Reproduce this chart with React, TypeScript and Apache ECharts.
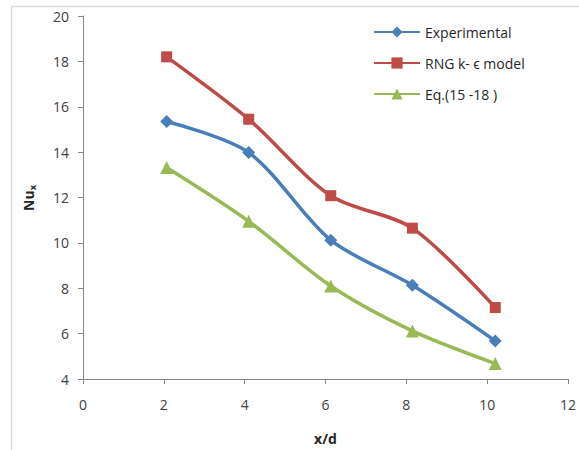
import React, { useEffect, useRef } from "react";
import * as echarts from "echarts";

const xValues = [2.07, 4.1, 6.13, 8.15, 10.2];
const experimental = [15.35, 13.98, 10.12, 8.13, 5.68];
const rngModel = [18.2, 15.45, 12.08, 10.65, 7.15];
const equation = [13.32, 10.95, 8.1, 6.12, 4.68];
const seriesNames = ["Experimental", "RNG k- \u03f5 model", "Eq.(15 -18 )"];
const xTicks = [0, 2, 4, 6, 8, 10, 12];
const yTicks = [4, 6, 8, 10, 12, 14, 16, 18, 20];

const FONT = "'Open Sans', 'Liberation Sans', sans-serif";

export default function App() {
  const ref = useRef<HTMLDivElement>(null);
  useEffect(() => {
    const chart = echarts.init(ref.current!, null, { renderer: "svg" });
    const pair = (ys: number[]) => xValues.map((x, i) => [x, ys[i]]);
    const mk = (name: string, ys: number[], color: string, symbol: string, size: number) => ({
      name,
      type: "line",
      data: pair(ys),
      smooth: 0.3,
      symbol,
      symbolSize: size,
      lineStyle: { color, width: 3.5 },
      itemStyle: { color },
      z: 3,
    });
    chart.setOption({
      animation: false,
      backgroundColor: "#ffffff",
      grid: { left: 83, right: 11, top: 16, bottom: 71 },
      legend: {
        orient: "vertical",
        left: 368,
        top: 20,
        itemGap: 17,
        itemWidth: 46,
        itemHeight: 14,
        textStyle: { fontFamily: FONT, fontSize: 14, color: "#262626" },
        data: seriesNames,
      },
      xAxis: {
        type: "value",
        min: 0,
        max: 12,
        interval: 2,
        name: "x/d",
        nameLocation: "middle",
        nameGap: 52,
        nameTextStyle: { fontFamily: FONT, fontSize: 14, fontWeight: "bold", color: "#262626" },
        axisLine: { show: true, lineStyle: { color: "#868686", width: 1 } },
        axisTick: { show: true, length: 5, lineStyle: { color: "#868686" } },
        splitLine: { show: false },
        axisLabel: {
          fontFamily: FONT,
          fontSize: 14,
          color: "#404040",
          margin: 18,
          formatter: (v: number) => (xTicks.includes(v) ? String(v) : ""),
        },
      },
      yAxis: {
        type: "value",
        min: 4,
        max: 20,
        interval: 2,
        axisLine: { show: true, lineStyle: { color: "#868686", width: 1 } },
        axisTick: { show: true, length: 5, lineStyle: { color: "#868686" } },
        splitLine: { show: false },
        axisLabel: {
          fontFamily: FONT,
          fontSize: 14,
          color: "#404040",
          margin: 14,
          formatter: (v: number) => (yTicks.includes(v) ? String(v) : ""),
        },
      },
      graphic: [
        {
          type: "rect",
          left: 9,
          top: 4,
          shape: { x: 0, y: 0, width: 600, height: 500 },
          style: { fill: "none", stroke: "#D9D9D9", lineWidth: 1.5 },
          silent: true,
          z: -10,
        },
        {
          type: "text",
          x: 28,
          y: 198,
          rotation: Math.PI / 2,
          style: {
            text: "{a|Nu}{b|x}",
            align: "center",
            verticalAlign: "middle",
            rich: {
              a: { fontFamily: FONT, fontSize: 14, fontWeight: "bold", fill: "#262626" },
              b: { fontFamily: FONT, fontSize: 9, fontWeight: "bold", fill: "#262626", verticalAlign: "bottom", padding: [8, 0, 0, 0] },
            },
          },
        },
      ],
      series: [
        mk(seriesNames[0], experimental, "#4A7EBB", "diamond", 13),
        mk(seriesNames[1], rngModel, "#BE4B48", "rect", 11),
        mk(seriesNames[2], equation, "#98B954", "triangle", 13),
      ],
    });
    return () => chart.dispose();
  }, []);
  return (
    <div
      ref={ref}
      style={{ position: "fixed", left: 0, top: 0, width: 579, height: 450 }}
    />
  );
}
